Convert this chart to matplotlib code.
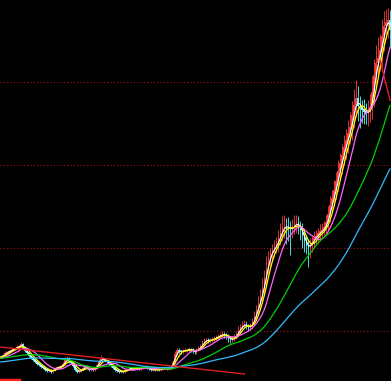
import numpy as np
import pandas as pd
import matplotlib
matplotlib.use('Agg')
import matplotlib.pyplot as plt

# closes before the visible window (only feed the moving averages)
closes_pre = [5.90, 5.82, 5.75, 5.70, 5.66, 5.62, 5.70, 5.78, 5.85, 5.92,
              5.98, 6.05, 5.96, 5.88, 5.80, 5.74, 5.68, 5.72, 5.80, 5.88,
              5.95, 6.02, 5.94, 5.86, 5.78, 5.72, 5.76, 5.84, 5.92, 6.00,
              6.10, 6.22, 6.35, 6.48, 6.60, 6.72, 6.85, 6.95, 7.05, 7.12,
              7.05, 6.96, 6.88, 6.80, 6.74, 6.70, 6.66, 6.62, 6.58, 6.55,
              6.52, 6.50, 6.54, 6.60, 6.66, 6.72, 6.78, 6.82, 6.85, 6.88]

# visible closes
closes = [6.87, 7.11, 7.35, 7.47, 7.59, 7.71, 7.83, 7.95, 8.07, 8.19,
          8.43, 7.95, 7.59, 7.35, 6.99, 6.75, 6.51, 6.27, 6.02, 5.90,
          5.66, 5.54, 5.30, 5.18, 5.30, 5.06, 5.30, 5.54, 5.66, 5.66,
          5.78, 6.02, 6.51, 6.75, 6.27, 6.14, 5.78, 5.30, 5.06, 5.18,
          5.30, 5.54, 5.78, 5.54, 5.30, 5.42, 5.30, 5.54, 5.90, 6.39,
          6.75, 6.63, 6.39, 6.27, 6.02, 5.78, 5.54, 5.30, 5.18, 5.06,
          5.18, 5.06, 5.30, 5.42, 5.42,
          5.54, 5.42, 5.54, 5.54, 5.42, 5.54, 5.66, 5.78, 5.54, 5.42,
          5.30, 5.30, 5.30, 5.42, 5.30, 5.42, 5.54, 5.54, 5.42, 5.54,
          5.66, 6.27, 7.23, 7.71, 7.59, 7.47, 7.59, 7.71, 7.71, 7.83,
          7.71, 7.59, 7.47, 7.71, 7.95, 8.19, 8.55, 8.92, 8.92, 8.80,
          8.92, 9.04, 9.16, 9.28, 9.40, 9.52, 9.64, 9.52, 9.40, 9.04,
          8.92, 9.04, 9.28, 9.64, 10.12, 10.48, 10.72, 10.84, 10.60, 10.36,
          10.60, 11.08, 11.81,
          12.53, 13.37, 14.10, 15.18, 16.39, 17.59, 18.80, 19.40, 19.76, 20.12,
          20.48, 21.21, 21.81, 22.41, 22.65, 22.53, 22.41, 22.17, 22.53, 22.77,
          23.13, 22.65, 22.17, 21.57, 20.84, 20.24, 20.00, 20.48, 20.96, 21.21,
          21.45, 21.81, 22.05, 22.17, 22.53, 23.13, 24.10, 25.18,
          26.02, 26.99, 28.07, 29.28, 30.24, 31.20, 32.17, 33.01, 33.86, 34.58,
          36.02, 37.23, 38.07, 37.11, 36.87, 36.63, 36.39, 36.27, 36.39, 36.99,
          38.80, 40.84, 42.29, 42.89, 43.86, 45.54, 46.75, 47.23, 47.47, 46.27]

upper_wick = [0.15, 0.10, 0.20, 0.12, 0.10, 0.18, 0.10, 0.15, 0.20, 0.12,
              0.25, 0.15, 0.10, 0.12, 0.10, 0.08, 0.10, 0.12, 0.08, 0.10,
              0.08, 0.10, 0.06, 0.08, 0.10, 0.08, 0.12, 0.10, 0.08, 0.10,
              0.12, 0.20, 0.40, 0.30, 0.10, 0.08, 0.06, 0.08, 0.06, 0.10,
              0.08, 0.10, 0.12, 0.08, 0.06, 0.10, 0.08, 0.10, 0.15, 0.25,
              0.35, 0.15, 0.10, 0.08, 0.06, 0.08, 0.06, 0.08, 0.06, 0.05,
              0.08, 0.06, 0.10, 0.08, 0.10,
              0.08, 0.10, 0.06, 0.08, 0.10, 0.08, 0.12, 0.15, 0.08, 0.06,
              0.08, 0.06, 0.08, 0.10, 0.06, 0.08, 0.10, 0.08, 0.06, 0.10,
              0.15, 0.30, 0.40, 0.25, 0.20, 0.15, 0.20, 0.25, 0.18, 0.22,
              0.15, 0.20, 0.18, 0.22, 0.25, 0.30, 0.35, 0.30, 0.25, 0.20,
              0.25, 0.22, 0.30, 0.25, 0.28, 0.30, 0.35, 0.25, 0.20, 0.22,
              0.25, 0.30, 0.35, 0.40, 0.45, 0.40, 0.50, 0.45, 0.35, 0.30,
              0.40, 0.55, 0.60,
              0.6, 0.8, 1.0, 1.2, 1.0, 1.5, 0.8, 0.6, 0.7, 0.8,
              0.9, 1.0, 1.2, 1.5, 1.3, 1.0, 1.2, 0.8, 1.0, 1.2,
              0.9, 0.7, 0.6, 0.8, 0.7, 0.6, 0.8, 0.7, 0.6, 0.8,
              0.7, 0.6, 0.8, 0.9, 0.7, 0.8, 1.0, 1.1,
              1.0, 1.2, 1.1, 1.3, 1.2, 1.4, 1.5, 1.3, 1.6, 1.8,
              1.7, 1.9, 2.2, 1.5, 1.2, 1.0, 1.3, 1.1, 1.4, 1.6,
              1.9, 2.0, 2.2, 2.5, 2.0, 2.1, 1.8, 1.6, 1.5, 1.2]

lower_wick = [0.10, 0.12, 0.08, 0.10, 0.12, 0.08, 0.10, 0.12, 0.08, 0.10,
              0.12, 0.15, 0.12, 0.10, 0.12, 0.10, 0.12, 0.15, 0.10, 0.12,
              0.10, 0.12, 0.15, 0.10, 0.12, 0.15, 0.10, 0.12, 0.10, 0.08,
              0.10, 0.12, 0.10, 0.15, 0.12, 0.10, 0.12, 0.15, 0.10, 0.12,
              0.10, 0.08, 0.10, 0.12, 0.10, 0.08, 0.10, 0.12, 0.08, 0.10,
              0.12, 0.10, 0.12, 0.10, 0.12, 0.15, 0.10, 0.12, 0.15, 0.10,
              0.12, 0.10, 0.08, 0.10, 0.12,
              0.10, 0.08, 0.12, 0.10, 0.08, 0.10, 0.12, 0.10, 0.08, 0.10,
              0.12, 0.10, 0.08, 0.10, 0.12, 0.10, 0.08, 0.10, 0.12, 0.10,
              0.08, 0.10, 0.15, 0.20, 0.18, 0.22, 0.20, 0.15, 0.18, 0.20,
              0.22, 0.25, 0.20, 0.18, 0.15, 0.20, 0.25, 0.30, 0.25, 0.22,
              0.20, 0.25, 0.22, 0.20, 0.25, 0.22, 0.20, 0.30, 0.35, 0.40,
              0.30, 0.25, 0.22, 0.20, 0.25, 0.30, 0.25, 0.35, 0.40, 0.30,
              0.25, 0.30, 0.35,
              0.5, 0.6, 0.8, 0.7, 0.9, 0.8, 0.7, 0.9, 1.0, 0.8,
              0.7, 0.9, 0.8, 1.0, 1.2, 2.0, 1.5, 3.0, 1.0, 0.8,
              0.9, 1.0, 1.2, 1.5, 1.3, 1.0, 2.3, 1.2, 0.9, 0.8,
              0.7, 0.8, 0.9, 0.7, 0.6, 0.8, 0.9, 1.0,
              0.9, 1.0, 1.1, 1.2, 1.0, 1.3, 1.2, 1.4, 1.5, 1.3,
              1.6, 1.5, 1.4, 1.8, 2.4, 1.6, 1.4, 1.3, 1.5, 1.2,
              1.4, 1.8, 1.6, 1.7, 1.5, 2.0, 1.8, 1.6, 1.9, 2.2]

ma_periods = [3, 5, 10, 30, 60]
ma_colors = ['#ffffff', '#ffff00', '#ff66ff', '#00d000', '#33bbff']

# drawn trend lines (bar index, price)
trend_x = [0, 122]
trend_y = [8.07, 4.82]
trend2_x = [190, 195]
trend2_y = [42.65, 37.83]
bottom_bar_x = [0, 9]
bottom_bar_y = [4.08, 4.08]

grid_levels = [10, 20, 30, 40]

closes = np.array(closes)
n = len(closes)
x = np.arange(n)
opens = np.r_[closes_pre[-1], closes[:-1]]
highs = np.maximum(opens, closes) + np.array(upper_wick)
lows = np.minimum(opens, closes) - np.array(lower_wick)
up = closes >= opens

all_closes = pd.Series(np.r_[closes_pre, closes])
x_all = np.arange(-len(closes_pre), n)

fig = plt.figure(figsize=(3.91, 3.81), dpi=100)
fig.patch.set_facecolor('black')
ax = fig.add_axes([0, 0, 1, 1])
ax.set_facecolor('black')

for lvl in grid_levels:
    ax.axhline(lvl, color='#a01818', lw=0.8, ls=(0, (1, 2)), zorder=1)

red, cyan = '#ff3a3a', '#54ffff'
for mask, col in [(up, red), (~up, cyan)]:
    ax.vlines(x[mask], lows[mask], highs[mask], color=col, lw=0.6, zorder=2)
    body_lo = np.minimum(opens, closes)[mask]
    body_h = np.maximum(np.abs(closes - opens)[mask], 0.04)
    ax.bar(x[mask], body_h, bottom=body_lo, width=0.7, color=col, lw=0, zorder=2)

for p, col in zip(ma_periods, ma_colors):
    ma = all_closes.rolling(p).mean()
    ax.plot(x_all, ma, color=col, lw=0.9, zorder=3)

ax.plot(trend_x, trend_y, color='#e02020', lw=1.0, zorder=3)
ax.plot(trend2_x, trend2_y, color='#e02020', lw=1.0, zorder=3)
ax.plot(bottom_bar_x, bottom_bar_y, color='#ff2020', lw=2.5, zorder=3)

ax.set_xlim(-0.5, n - 0.5)
ax.set_ylim(3.98, 49.9)
ax.axis('off')

fig.savefig('out.png', dpi=100, facecolor='black')
